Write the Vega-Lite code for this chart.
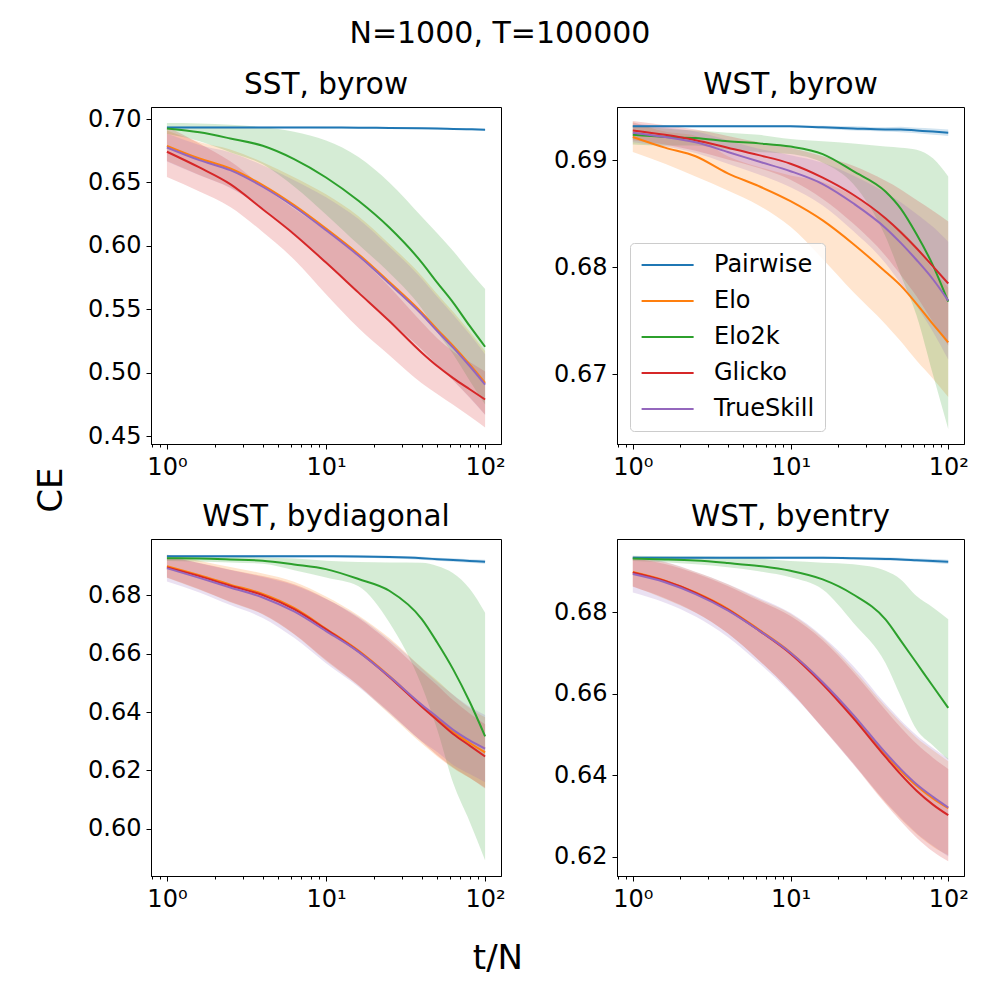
{
  "$schema": "https://vega.github.io/schema/vega-lite/v6.json",
  "padding": {"left": 35, "top": 19, "right": 5, "bottom": 5},
  "title": {"text": "N=1000, T=100000", "fontSize": 30, "anchor": "middle", "frame": "bounds", "offset": 20, "dx": -2},
  "datasets": {
    "ce": [
      {"p":"SST, byrow","s":"Pairwise","x":1,"m":0.6934,"lo":0.6927,"hi":0.6941},
      {"p":"SST, byrow","s":"Pairwise","x":1.6,"m":0.6934,"lo":0.6927,"hi":0.6941},
      {"p":"SST, byrow","s":"Pairwise","x":2.5,"m":0.6934,"lo":0.6927,"hi":0.6941},
      {"p":"SST, byrow","s":"Pairwise","x":4,"m":0.6934,"lo":0.6927,"hi":0.6941},
      {"p":"SST, byrow","s":"Pairwise","x":6.3,"m":0.6934,"lo":0.6927,"hi":0.6941},
      {"p":"SST, byrow","s":"Pairwise","x":10,"m":0.6933,"lo":0.6926,"hi":0.6940},
      {"p":"SST, byrow","s":"Pairwise","x":16,"m":0.6932,"lo":0.6925,"hi":0.6939},
      {"p":"SST, byrow","s":"Pairwise","x":25,"m":0.6930,"lo":0.6923,"hi":0.6937},
      {"p":"SST, byrow","s":"Pairwise","x":40,"m":0.6927,"lo":0.6920,"hi":0.6934},
      {"p":"SST, byrow","s":"Pairwise","x":50,"m":0.6925,"lo":0.6918,"hi":0.6932},
      {"p":"SST, byrow","s":"Pairwise","x":63,"m":0.6922,"lo":0.6915,"hi":0.6929},
      {"p":"SST, byrow","s":"Pairwise","x":80,"m":0.6919,"lo":0.6912,"hi":0.6926},
      {"p":"SST, byrow","s":"Pairwise","x":100,"m":0.6916,"lo":0.6909,"hi":0.6923},

      {"p":"SST, byrow","s":"Elo","x":1,"m":0.6789,"lo":0.6669,"hi":0.6909},
      {"p":"SST, byrow","s":"Elo","x":1.6,"m":0.6689,"lo":0.6559,"hi":0.6819},
      {"p":"SST, byrow","s":"Elo","x":2.5,"m":0.6610,"lo":0.6460,"hi":0.6760},
      {"p":"SST, byrow","s":"Elo","x":4,"m":0.6479,"lo":0.6299,"hi":0.6659},
      {"p":"SST, byrow","s":"Elo","x":6.3,"m":0.6321,"lo":0.6101,"hi":0.6541},
      {"p":"SST, byrow","s":"Elo","x":10,"m":0.6136,"lo":0.5866,"hi":0.6406},
      {"p":"SST, byrow","s":"Elo","x":16,"m":0.5934,"lo":0.5634,"hi":0.6234},
      {"p":"SST, byrow","s":"Elo","x":25,"m":0.5715,"lo":0.5415,"hi":0.6015},
      {"p":"SST, byrow","s":"Elo","x":40,"m":0.5473,"lo":0.5183,"hi":0.5763},
      {"p":"SST, byrow","s":"Elo","x":50,"m":0.5341,"lo":0.5061,"hi":0.5621},
      {"p":"SST, byrow","s":"Elo","x":63,"m":0.5210,"lo":0.4940,"hi":0.5480},
      {"p":"SST, byrow","s":"Elo","x":80,"m":0.5065,"lo":0.4805,"hi":0.5325},
      {"p":"SST, byrow","s":"Elo","x":100,"m":0.4920,"lo":0.4670,"hi":0.5170},

      {"p":"SST, byrow","s":"Elo2k","x":1,"m":0.6926,"lo":0.6884,"hi":0.6968},
      {"p":"SST, byrow","s":"Elo2k","x":1.6,"m":0.6895,"lo":0.6825,"hi":0.6965},
      {"p":"SST, byrow","s":"Elo2k","x":2.5,"m":0.6847,"lo":0.6739,"hi":0.6955},
      {"p":"SST, byrow","s":"Elo2k","x":4,"m":0.6789,"lo":0.6643,"hi":0.6935},
      {"p":"SST, byrow","s":"Elo2k","x":6.3,"m":0.6684,"lo":0.6468,"hi":0.6900},
      {"p":"SST, byrow","s":"Elo2k","x":10,"m":0.6539,"lo":0.6248,"hi":0.6830},
      {"p":"SST, byrow","s":"Elo2k","x":16,"m":0.6355,"lo":0.6010,"hi":0.6700},
      {"p":"SST, byrow","s":"Elo2k","x":25,"m":0.6144,"lo":0.5788,"hi":0.6500},
      {"p":"SST, byrow","s":"Elo2k","x":40,"m":0.5868,"lo":0.5506,"hi":0.6230},
      {"p":"SST, byrow","s":"Elo2k","x":50,"m":0.5710,"lo":0.5320,"hi":0.6100},
      {"p":"SST, byrow","s":"Elo2k","x":63,"m":0.5552,"lo":0.5144,"hi":0.5960},
      {"p":"SST, byrow","s":"Elo2k","x":80,"m":0.5368,"lo":0.4936,"hi":0.5800},
      {"p":"SST, byrow","s":"Elo2k","x":100,"m":0.5204,"lo":0.4748,"hi":0.5660},

      {"p":"SST, byrow","s":"Glicko","x":1,"m":0.6742,"lo":0.6542,"hi":0.6942},
      {"p":"SST, byrow","s":"Glicko","x":1.6,"m":0.6618,"lo":0.6428,"hi":0.6808},
      {"p":"SST, byrow","s":"Glicko","x":2.5,"m":0.6487,"lo":0.6307,"hi":0.6667},
      {"p":"SST, byrow","s":"Glicko","x":4,"m":0.6289,"lo":0.6109,"hi":0.6469},
      {"p":"SST, byrow","s":"Glicko","x":6.3,"m":0.6092,"lo":0.5892,"hi":0.6292},
      {"p":"SST, byrow","s":"Glicko","x":10,"m":0.5868,"lo":0.5618,"hi":0.6118},
      {"p":"SST, byrow","s":"Glicko","x":16,"m":0.5631,"lo":0.5351,"hi":0.5911},
      {"p":"SST, byrow","s":"Glicko","x":25,"m":0.5407,"lo":0.5137,"hi":0.5677},
      {"p":"SST, byrow","s":"Glicko","x":40,"m":0.5157,"lo":0.4917,"hi":0.5397},
      {"p":"SST, byrow","s":"Glicko","x":50,"m":0.5052,"lo":0.4832,"hi":0.5272},
      {"p":"SST, byrow","s":"Glicko","x":63,"m":0.4957,"lo":0.4747,"hi":0.5167},
      {"p":"SST, byrow","s":"Glicko","x":80,"m":0.4869,"lo":0.4655,"hi":0.5083},
      {"p":"SST, byrow","s":"Glicko","x":100,"m":0.4788,"lo":0.4568,"hi":0.5008},

      {"p":"SST, byrow","s":"TrueSkill","x":1,"m":0.6776,"lo":0.6666,"hi":0.6886},
      {"p":"SST, byrow","s":"TrueSkill","x":1.6,"m":0.6676,"lo":0.6556,"hi":0.6796},
      {"p":"SST, byrow","s":"TrueSkill","x":2.5,"m":0.6597,"lo":0.6457,"hi":0.6737},
      {"p":"SST, byrow","s":"TrueSkill","x":4,"m":0.6466,"lo":0.6296,"hi":0.6636},
      {"p":"SST, byrow","s":"TrueSkill","x":6.3,"m":0.6308,"lo":0.6098,"hi":0.6518},
      {"p":"SST, byrow","s":"TrueSkill","x":10,"m":0.6123,"lo":0.5863,"hi":0.6383},
      {"p":"SST, byrow","s":"TrueSkill","x":16,"m":0.5921,"lo":0.5631,"hi":0.6211},
      {"p":"SST, byrow","s":"TrueSkill","x":25,"m":0.5702,"lo":0.5412,"hi":0.5992},
      {"p":"SST, byrow","s":"TrueSkill","x":40,"m":0.5460,"lo":0.5180,"hi":0.5740},
      {"p":"SST, byrow","s":"TrueSkill","x":50,"m":0.5328,"lo":0.5058,"hi":0.5598},
      {"p":"SST, byrow","s":"TrueSkill","x":63,"m":0.5197,"lo":0.4937,"hi":0.5457},
      {"p":"SST, byrow","s":"TrueSkill","x":80,"m":0.5052,"lo":0.4802,"hi":0.5302},
      {"p":"SST, byrow","s":"TrueSkill","x":100,"m":0.4905,"lo":0.4665,"hi":0.5145},

      {"p":"WST, byrow","s":"Pairwise","x":1,"m":0.6932,"lo":0.6931,"hi":0.6933},
      {"p":"WST, byrow","s":"Pairwise","x":1.6,"m":0.6932,"lo":0.6931,"hi":0.6933},
      {"p":"WST, byrow","s":"Pairwise","x":2.5,"m":0.6932,"lo":0.6931,"hi":0.6933},
      {"p":"WST, byrow","s":"Pairwise","x":4,"m":0.6932,"lo":0.6931,"hi":0.6933},
      {"p":"WST, byrow","s":"Pairwise","x":6.3,"m":0.6932,"lo":0.6931,"hi":0.6933},
      {"p":"WST, byrow","s":"Pairwise","x":10,"m":0.6932,"lo":0.6931,"hi":0.6933},
      {"p":"WST, byrow","s":"Pairwise","x":16,"m":0.6931,"lo":0.69295,"hi":0.69325},
      {"p":"WST, byrow","s":"Pairwise","x":25,"m":0.6930,"lo":0.6928,"hi":0.6932},
      {"p":"WST, byrow","s":"Pairwise","x":40,"m":0.6929,"lo":0.6927,"hi":0.6931},
      {"p":"WST, byrow","s":"Pairwise","x":50,"m":0.6929,"lo":0.69265,"hi":0.69315},
      {"p":"WST, byrow","s":"Pairwise","x":63,"m":0.6928,"lo":0.69255,"hi":0.69305},
      {"p":"WST, byrow","s":"Pairwise","x":80,"m":0.6927,"lo":0.6924,"hi":0.6930},
      {"p":"WST, byrow","s":"Pairwise","x":100,"m":0.6926,"lo":0.6923,"hi":0.6929},

      {"p":"WST, byrow","s":"Elo","x":1,"m":0.6922,"lo":0.6908,"hi":0.6936},
      {"p":"WST, byrow","s":"Elo","x":1.6,"m":0.6912,"lo":0.6897,"hi":0.6927},
      {"p":"WST, byrow","s":"Elo","x":2.5,"m":0.6904,"lo":0.6885,"hi":0.6923},
      {"p":"WST, byrow","s":"Elo","x":4,"m":0.6888,"lo":0.6872,"hi":0.6904},
      {"p":"WST, byrow","s":"Elo","x":6.3,"m":0.6876,"lo":0.6858,"hi":0.6894},
      {"p":"WST, byrow","s":"Elo","x":10,"m":0.6862,"lo":0.6838,"hi":0.6886},
      {"p":"WST, byrow","s":"Elo","x":16,"m":0.6844,"lo":0.6808,"hi":0.6880},
      {"p":"WST, byrow","s":"Elo","x":25,"m":0.6822,"lo":0.6777,"hi":0.6867},
      {"p":"WST, byrow","s":"Elo","x":40,"m":0.6796,"lo":0.6747,"hi":0.6845},
      {"p":"WST, byrow","s":"Elo","x":50,"m":0.6783,"lo":0.6731,"hi":0.6835},
      {"p":"WST, byrow","s":"Elo","x":63,"m":0.6766,"lo":0.6713,"hi":0.6819},
      {"p":"WST, byrow","s":"Elo","x":80,"m":0.6747,"lo":0.6696,"hi":0.6798},
      {"p":"WST, byrow","s":"Elo","x":100,"m":0.6730,"lo":0.6679,"hi":0.6781},

      {"p":"WST, byrow","s":"Elo2k","x":1,"m":0.6924,"lo":0.6915,"hi":0.6933},
      {"p":"WST, byrow","s":"Elo2k","x":1.6,"m":0.6922,"lo":0.6914,"hi":0.6930},
      {"p":"WST, byrow","s":"Elo2k","x":2.5,"m":0.6921,"lo":0.6914,"hi":0.6928},
      {"p":"WST, byrow","s":"Elo2k","x":4,"m":0.6918,"lo":0.6910,"hi":0.6926},
      {"p":"WST, byrow","s":"Elo2k","x":6.3,"m":0.6916,"lo":0.6908,"hi":0.6924},
      {"p":"WST, byrow","s":"Elo2k","x":10,"m":0.6913,"lo":0.6906,"hi":0.6920},
      {"p":"WST, byrow","s":"Elo2k","x":16,"m":0.6906,"lo":0.6898,"hi":0.6918},
      {"p":"WST, byrow","s":"Elo2k","x":25,"m":0.6890,"lo":0.6878,"hi":0.6916},
      {"p":"WST, byrow","s":"Elo2k","x":40,"m":0.6871,"lo":0.6829,"hi":0.6913},
      {"p":"WST, byrow","s":"Elo2k","x":50,"m":0.6855,"lo":0.6793,"hi":0.6912},
      {"p":"WST, byrow","s":"Elo2k","x":63,"m":0.6831,"lo":0.6755,"hi":0.6910},
      {"p":"WST, byrow","s":"Elo2k","x":80,"m":0.6802,"lo":0.6700,"hi":0.6902},
      {"p":"WST, byrow","s":"Elo2k","x":100,"m":0.6768,"lo":0.6649,"hi":0.6885},

      {"p":"WST, byrow","s":"Glicko","x":1,"m":0.6928,"lo":0.6919,"hi":0.6937},
      {"p":"WST, byrow","s":"Glicko","x":1.6,"m":0.6924,"lo":0.6915,"hi":0.6933},
      {"p":"WST, byrow","s":"Glicko","x":2.5,"m":0.6919,"lo":0.6909,"hi":0.6929},
      {"p":"WST, byrow","s":"Glicko","x":4,"m":0.6912,"lo":0.6901,"hi":0.6923},
      {"p":"WST, byrow","s":"Glicko","x":6.3,"m":0.6905,"lo":0.6893,"hi":0.6917},
      {"p":"WST, byrow","s":"Glicko","x":10,"m":0.6897,"lo":0.6882,"hi":0.6912},
      {"p":"WST, byrow","s":"Glicko","x":16,"m":0.6884,"lo":0.6864,"hi":0.6904},
      {"p":"WST, byrow","s":"Glicko","x":25,"m":0.6868,"lo":0.6841,"hi":0.6895},
      {"p":"WST, byrow","s":"Glicko","x":40,"m":0.6846,"lo":0.6811,"hi":0.6881},
      {"p":"WST, byrow","s":"Glicko","x":50,"m":0.6833,"lo":0.6793,"hi":0.6873},
      {"p":"WST, byrow","s":"Glicko","x":63,"m":0.6818,"lo":0.6773,"hi":0.6863},
      {"p":"WST, byrow","s":"Glicko","x":80,"m":0.6801,"lo":0.6749,"hi":0.6853},
      {"p":"WST, byrow","s":"Glicko","x":100,"m":0.6785,"lo":0.6727,"hi":0.6843},

      {"p":"WST, byrow","s":"TrueSkill","x":1,"m":0.6926,"lo":0.6917,"hi":0.6935},
      {"p":"WST, byrow","s":"TrueSkill","x":1.6,"m":0.6922,"lo":0.6913,"hi":0.6931},
      {"p":"WST, byrow","s":"TrueSkill","x":2.5,"m":0.6917,"lo":0.6907,"hi":0.6927},
      {"p":"WST, byrow","s":"TrueSkill","x":4,"m":0.6908,"lo":0.6897,"hi":0.6919},
      {"p":"WST, byrow","s":"TrueSkill","x":6.3,"m":0.6899,"lo":0.6887,"hi":0.6911},
      {"p":"WST, byrow","s":"TrueSkill","x":10,"m":0.6890,"lo":0.6875,"hi":0.6905},
      {"p":"WST, byrow","s":"TrueSkill","x":16,"m":0.6878,"lo":0.6858,"hi":0.6898},
      {"p":"WST, byrow","s":"TrueSkill","x":25,"m":0.6860,"lo":0.6834,"hi":0.6886},
      {"p":"WST, byrow","s":"TrueSkill","x":40,"m":0.6837,"lo":0.6804,"hi":0.6870},
      {"p":"WST, byrow","s":"TrueSkill","x":50,"m":0.6823,"lo":0.6785,"hi":0.6861},
      {"p":"WST, byrow","s":"TrueSkill","x":63,"m":0.6807,"lo":0.6764,"hi":0.6850},
      {"p":"WST, byrow","s":"TrueSkill","x":80,"m":0.6789,"lo":0.6740,"hi":0.6838},
      {"p":"WST, byrow","s":"TrueSkill","x":100,"m":0.6769,"lo":0.6714,"hi":0.6824},

      {"p":"WST, bydiagonal","s":"Pairwise","x":1,"m":0.6933,"lo":0.6929,"hi":0.6937},
      {"p":"WST, bydiagonal","s":"Pairwise","x":1.6,"m":0.6933,"lo":0.6929,"hi":0.6937},
      {"p":"WST, bydiagonal","s":"Pairwise","x":2.5,"m":0.6933,"lo":0.6929,"hi":0.6937},
      {"p":"WST, bydiagonal","s":"Pairwise","x":4,"m":0.6933,"lo":0.6929,"hi":0.6937},
      {"p":"WST, bydiagonal","s":"Pairwise","x":6.3,"m":0.6933,"lo":0.6929,"hi":0.6937},
      {"p":"WST, bydiagonal","s":"Pairwise","x":10,"m":0.6933,"lo":0.6929,"hi":0.6937},
      {"p":"WST, bydiagonal","s":"Pairwise","x":16,"m":0.6932,"lo":0.6928,"hi":0.6936},
      {"p":"WST, bydiagonal","s":"Pairwise","x":25,"m":0.6930,"lo":0.69255,"hi":0.69345},
      {"p":"WST, bydiagonal","s":"Pairwise","x":40,"m":0.6926,"lo":0.6921,"hi":0.6931},
      {"p":"WST, bydiagonal","s":"Pairwise","x":50,"m":0.6923,"lo":0.6918,"hi":0.6928},
      {"p":"WST, bydiagonal","s":"Pairwise","x":63,"m":0.6920,"lo":0.6914,"hi":0.6926},
      {"p":"WST, bydiagonal","s":"Pairwise","x":80,"m":0.6917,"lo":0.6911,"hi":0.6923},
      {"p":"WST, bydiagonal","s":"Pairwise","x":100,"m":0.6914,"lo":0.6907,"hi":0.6921},

      {"p":"WST, bydiagonal","s":"Elo","x":1,"m":0.6899,"lo":0.6859,"hi":0.6939},
      {"p":"WST, bydiagonal","s":"Elo","x":1.6,"m":0.6868,"lo":0.6818,"hi":0.6918},
      {"p":"WST, bydiagonal","s":"Elo","x":2.5,"m":0.6836,"lo":0.6776,"hi":0.6896},
      {"p":"WST, bydiagonal","s":"Elo","x":4,"m":0.6804,"lo":0.6734,"hi":0.6874},
      {"p":"WST, bydiagonal","s":"Elo","x":6.3,"m":0.6756,"lo":0.6666,"hi":0.6846},
      {"p":"WST, bydiagonal","s":"Elo","x":10,"m":0.6685,"lo":0.6575,"hi":0.6795},
      {"p":"WST, bydiagonal","s":"Elo","x":16,"m":0.6610,"lo":0.6490,"hi":0.6730},
      {"p":"WST, bydiagonal","s":"Elo","x":25,"m":0.6523,"lo":0.6393,"hi":0.6653},
      {"p":"WST, bydiagonal","s":"Elo","x":40,"m":0.6422,"lo":0.6292,"hi":0.6552},
      {"p":"WST, bydiagonal","s":"Elo","x":50,"m":0.6378,"lo":0.6248,"hi":0.6508},
      {"p":"WST, bydiagonal","s":"Elo","x":63,"m":0.6333,"lo":0.6208,"hi":0.6458},
      {"p":"WST, bydiagonal","s":"Elo","x":80,"m":0.6294,"lo":0.6174,"hi":0.6414},
      {"p":"WST, bydiagonal","s":"Elo","x":100,"m":0.6262,"lo":0.6142,"hi":0.6382},

      {"p":"WST, bydiagonal","s":"Elo2k","x":1,"m":0.6926,"lo":0.6917,"hi":0.6935},
      {"p":"WST, bydiagonal","s":"Elo2k","x":1.6,"m":0.6925,"lo":0.6915,"hi":0.6934},
      {"p":"WST, bydiagonal","s":"Elo2k","x":2.5,"m":0.6922,"lo":0.6912,"hi":0.6932},
      {"p":"WST, bydiagonal","s":"Elo2k","x":4,"m":0.6918,"lo":0.6907,"hi":0.6929},
      {"p":"WST, bydiagonal","s":"Elo2k","x":6.3,"m":0.6905,"lo":0.6885,"hi":0.6925},
      {"p":"WST, bydiagonal","s":"Elo2k","x":10,"m":0.6889,"lo":0.6860,"hi":0.6918},
      {"p":"WST, bydiagonal","s":"Elo2k","x":16,"m":0.6855,"lo":0.6830,"hi":0.6913},
      {"p":"WST, bydiagonal","s":"Elo2k","x":25,"m":0.6815,"lo":0.6706,"hi":0.6912},
      {"p":"WST, bydiagonal","s":"Elo2k","x":40,"m":0.6718,"lo":0.6489,"hi":0.6911},
      {"p":"WST, bydiagonal","s":"Elo2k","x":50,"m":0.6638,"lo":0.6340,"hi":0.6900},
      {"p":"WST, bydiagonal","s":"Elo2k","x":63,"m":0.6546,"lo":0.6157,"hi":0.6875},
      {"p":"WST, bydiagonal","s":"Elo2k","x":80,"m":0.6435,"lo":0.6025,"hi":0.6822},
      {"p":"WST, bydiagonal","s":"Elo2k","x":100,"m":0.6317,"lo":0.5893,"hi":0.6740},

      {"p":"WST, bydiagonal","s":"Glicko","x":1,"m":0.6895,"lo":0.6860,"hi":0.6930},
      {"p":"WST, bydiagonal","s":"Glicko","x":1.6,"m":0.6865,"lo":0.6820,"hi":0.6910},
      {"p":"WST, bydiagonal","s":"Glicko","x":2.5,"m":0.6832,"lo":0.6777,"hi":0.6887},
      {"p":"WST, bydiagonal","s":"Glicko","x":4,"m":0.6800,"lo":0.6735,"hi":0.6865},
      {"p":"WST, bydiagonal","s":"Glicko","x":6.3,"m":0.6752,"lo":0.6667,"hi":0.6837},
      {"p":"WST, bydiagonal","s":"Glicko","x":10,"m":0.6683,"lo":0.6578,"hi":0.6788},
      {"p":"WST, bydiagonal","s":"Glicko","x":16,"m":0.6607,"lo":0.6492,"hi":0.6722},
      {"p":"WST, bydiagonal","s":"Glicko","x":25,"m":0.6520,"lo":0.6400,"hi":0.6640},
      {"p":"WST, bydiagonal","s":"Glicko","x":40,"m":0.6418,"lo":0.6298,"hi":0.6538},
      {"p":"WST, bydiagonal","s":"Glicko","x":50,"m":0.6372,"lo":0.6252,"hi":0.6492},
      {"p":"WST, bydiagonal","s":"Glicko","x":63,"m":0.6325,"lo":0.6210,"hi":0.6440},
      {"p":"WST, bydiagonal","s":"Glicko","x":80,"m":0.6285,"lo":0.6175,"hi":0.6395},
      {"p":"WST, bydiagonal","s":"Glicko","x":100,"m":0.6248,"lo":0.6138,"hi":0.6358},

      {"p":"WST, bydiagonal","s":"TrueSkill","x":1,"m":0.6892,"lo":0.6847,"hi":0.6937},
      {"p":"WST, bydiagonal","s":"TrueSkill","x":1.6,"m":0.6859,"lo":0.6809,"hi":0.6909},
      {"p":"WST, bydiagonal","s":"TrueSkill","x":2.5,"m":0.6826,"lo":0.6766,"hi":0.6886},
      {"p":"WST, bydiagonal","s":"TrueSkill","x":4,"m":0.6792,"lo":0.6722,"hi":0.6862},
      {"p":"WST, bydiagonal","s":"TrueSkill","x":6.3,"m":0.6744,"lo":0.6654,"hi":0.6834},
      {"p":"WST, bydiagonal","s":"TrueSkill","x":10,"m":0.6677,"lo":0.6567,"hi":0.6787},
      {"p":"WST, bydiagonal","s":"TrueSkill","x":16,"m":0.6606,"lo":0.6486,"hi":0.6726},
      {"p":"WST, bydiagonal","s":"TrueSkill","x":25,"m":0.6522,"lo":0.6397,"hi":0.6647},
      {"p":"WST, bydiagonal","s":"TrueSkill","x":40,"m":0.6425,"lo":0.6300,"hi":0.6550},
      {"p":"WST, bydiagonal","s":"TrueSkill","x":50,"m":0.6383,"lo":0.6263,"hi":0.6503},
      {"p":"WST, bydiagonal","s":"TrueSkill","x":63,"m":0.6339,"lo":0.6219,"hi":0.6459},
      {"p":"WST, bydiagonal","s":"TrueSkill","x":80,"m":0.6303,"lo":0.6188,"hi":0.6418},
      {"p":"WST, bydiagonal","s":"TrueSkill","x":100,"m":0.6275,"lo":0.6160,"hi":0.6390},

      {"p":"WST, byentry","s":"Pairwise","x":1,"m":0.6933,"lo":0.6930,"hi":0.6936},
      {"p":"WST, byentry","s":"Pairwise","x":1.6,"m":0.6933,"lo":0.6930,"hi":0.6936},
      {"p":"WST, byentry","s":"Pairwise","x":2.5,"m":0.6933,"lo":0.6930,"hi":0.6936},
      {"p":"WST, byentry","s":"Pairwise","x":4,"m":0.6933,"lo":0.6930,"hi":0.6936},
      {"p":"WST, byentry","s":"Pairwise","x":6.3,"m":0.6933,"lo":0.6930,"hi":0.6936},
      {"p":"WST, byentry","s":"Pairwise","x":10,"m":0.6933,"lo":0.6930,"hi":0.6936},
      {"p":"WST, byentry","s":"Pairwise","x":16,"m":0.6933,"lo":0.6930,"hi":0.6936},
      {"p":"WST, byentry","s":"Pairwise","x":25,"m":0.6932,"lo":0.6929,"hi":0.6935},
      {"p":"WST, byentry","s":"Pairwise","x":40,"m":0.6930,"lo":0.6926,"hi":0.6934},
      {"p":"WST, byentry","s":"Pairwise","x":50,"m":0.6929,"lo":0.6925,"hi":0.6933},
      {"p":"WST, byentry","s":"Pairwise","x":63,"m":0.6927,"lo":0.6923,"hi":0.6931},
      {"p":"WST, byentry","s":"Pairwise","x":80,"m":0.6925,"lo":0.6920,"hi":0.6930},
      {"p":"WST, byentry","s":"Pairwise","x":100,"m":0.6923,"lo":0.6918,"hi":0.6928},

      {"p":"WST, byentry","s":"Elo","x":1,"m":0.6898,"lo":0.6863,"hi":0.6933},
      {"p":"WST, byentry","s":"Elo","x":1.6,"m":0.6877,"lo":0.6832,"hi":0.6922},
      {"p":"WST, byentry","s":"Elo","x":2.5,"m":0.6848,"lo":0.6798,"hi":0.6898},
      {"p":"WST, byentry","s":"Elo","x":4,"m":0.6808,"lo":0.6748,"hi":0.6868},
      {"p":"WST, byentry","s":"Elo","x":6.3,"m":0.6757,"lo":0.6682,"hi":0.6832},
      {"p":"WST, byentry","s":"Elo","x":10,"m":0.6701,"lo":0.6606,"hi":0.6796},
      {"p":"WST, byentry","s":"Elo","x":16,"m":0.6627,"lo":0.6517,"hi":0.6737},
      {"p":"WST, byentry","s":"Elo","x":25,"m":0.6545,"lo":0.6430,"hi":0.6660},
      {"p":"WST, byentry","s":"Elo","x":40,"m":0.6451,"lo":0.6333,"hi":0.6569},
      {"p":"WST, byentry","s":"Elo","x":50,"m":0.6411,"lo":0.6293,"hi":0.6529},
      {"p":"WST, byentry","s":"Elo","x":63,"m":0.6374,"lo":0.6256,"hi":0.6492},
      {"p":"WST, byentry","s":"Elo","x":80,"m":0.6343,"lo":0.6225,"hi":0.6461},
      {"p":"WST, byentry","s":"Elo","x":100,"m":0.6319,"lo":0.6204,"hi":0.6434},

      {"p":"WST, byentry","s":"Elo2k","x":1,"m":0.6931,"lo":0.6925,"hi":0.6938},
      {"p":"WST, byentry","s":"Elo2k","x":1.6,"m":0.6929,"lo":0.6922,"hi":0.6937},
      {"p":"WST, byentry","s":"Elo2k","x":2.5,"m":0.6926,"lo":0.6917,"hi":0.6936},
      {"p":"WST, byentry","s":"Elo2k","x":4,"m":0.6920,"lo":0.6910,"hi":0.6934},
      {"p":"WST, byentry","s":"Elo2k","x":6.3,"m":0.6913,"lo":0.6900,"hi":0.6931},
      {"p":"WST, byentry","s":"Elo2k","x":10,"m":0.6901,"lo":0.6885,"hi":0.6925},
      {"p":"WST, byentry","s":"Elo2k","x":16,"m":0.6880,"lo":0.6855,"hi":0.6921},
      {"p":"WST, byentry","s":"Elo2k","x":25,"m":0.6843,"lo":0.6774,"hi":0.6917},
      {"p":"WST, byentry","s":"Elo2k","x":40,"m":0.6782,"lo":0.6675,"hi":0.6901},
      {"p":"WST, byentry","s":"Elo2k","x":50,"m":0.6730,"lo":0.6593,"hi":0.6880},
      {"p":"WST, byentry","s":"Elo2k","x":63,"m":0.6675,"lo":0.6512,"hi":0.6839},
      {"p":"WST, byentry","s":"Elo2k","x":80,"m":0.6618,"lo":0.6473,"hi":0.6811},
      {"p":"WST, byentry","s":"Elo2k","x":100,"m":0.6565,"lo":0.6438,"hi":0.6782},

      {"p":"WST, byentry","s":"Glicko","x":1,"m":0.6897,"lo":0.6862,"hi":0.6932},
      {"p":"WST, byentry","s":"Glicko","x":1.6,"m":0.6876,"lo":0.6834,"hi":0.6918},
      {"p":"WST, byentry","s":"Glicko","x":2.5,"m":0.6847,"lo":0.6799,"hi":0.6895},
      {"p":"WST, byentry","s":"Glicko","x":4,"m":0.6806,"lo":0.6748,"hi":0.6864},
      {"p":"WST, byentry","s":"Glicko","x":6.3,"m":0.6755,"lo":0.6682,"hi":0.6828},
      {"p":"WST, byentry","s":"Glicko","x":10,"m":0.6698,"lo":0.6606,"hi":0.6790},
      {"p":"WST, byentry","s":"Glicko","x":16,"m":0.6623,"lo":0.6515,"hi":0.6731},
      {"p":"WST, byentry","s":"Glicko","x":25,"m":0.6540,"lo":0.6427,"hi":0.6653},
      {"p":"WST, byentry","s":"Glicko","x":40,"m":0.6445,"lo":0.6330,"hi":0.6560},
      {"p":"WST, byentry","s":"Glicko","x":50,"m":0.6402,"lo":0.6287,"hi":0.6517},
      {"p":"WST, byentry","s":"Glicko","x":63,"m":0.6362,"lo":0.6247,"hi":0.6477},
      {"p":"WST, byentry","s":"Glicko","x":80,"m":0.6328,"lo":0.6213,"hi":0.6443},
      {"p":"WST, byentry","s":"Glicko","x":100,"m":0.6302,"lo":0.6189,"hi":0.6415},

      {"p":"WST, byentry","s":"TrueSkill","x":1,"m":0.6893,"lo":0.6848,"hi":0.6938},
      {"p":"WST, byentry","s":"TrueSkill","x":1.6,"m":0.6873,"lo":0.6823,"hi":0.6923},
      {"p":"WST, byentry","s":"TrueSkill","x":2.5,"m":0.6844,"lo":0.6789,"hi":0.6899},
      {"p":"WST, byentry","s":"TrueSkill","x":4,"m":0.6804,"lo":0.6739,"hi":0.6869},
      {"p":"WST, byentry","s":"TrueSkill","x":6.3,"m":0.6755,"lo":0.6675,"hi":0.6835},
      {"p":"WST, byentry","s":"TrueSkill","x":10,"m":0.6700,"lo":0.6602,"hi":0.6798},
      {"p":"WST, byentry","s":"TrueSkill","x":16,"m":0.6628,"lo":0.6516,"hi":0.6740},
      {"p":"WST, byentry","s":"TrueSkill","x":25,"m":0.6548,"lo":0.6428,"hi":0.6668},
      {"p":"WST, byentry","s":"TrueSkill","x":40,"m":0.6455,"lo":0.6335,"hi":0.6575},
      {"p":"WST, byentry","s":"TrueSkill","x":50,"m":0.6415,"lo":0.6295,"hi":0.6535},
      {"p":"WST, byentry","s":"TrueSkill","x":63,"m":0.6378,"lo":0.6258,"hi":0.6498},
      {"p":"WST, byentry","s":"TrueSkill","x":80,"m":0.6347,"lo":0.6227,"hi":0.6467},
      {"p":"WST, byentry","s":"TrueSkill","x":100,"m":0.6321,"lo":0.6201,"hi":0.6441}
    ]
  },
  "vconcat": [
    {
      "title": {"text": "t/N", "orient": "bottom", "fontSize": 34, "anchor": "middle", "frame": "bounds", "offset": 30, "dx": -4},
      "vconcat": [
        {
          "title": {"text": "CE", "orient": "left", "fontSize": 34, "anchor": "middle", "frame": "bounds", "offset": 18},
          "spacing": 21,
          "vconcat": [
            {
              "spacing": 47,
              "hconcat": [
                {
                  "width": 350, "height": 337,
                  "title": {"text": "SST, byrow"},
                  "data": {"name": "ce"},
                  "transform": [{"filter": "datum.p == 'SST, byrow'"}],
                  "resolve": {"axis": {"x": "independent"}},
                  "layer": [
                    {
                      "mark": {"type": "area", "opacity": 0.2, "interpolate": "monotone"},
                      "encoding": {
                        "x": {"field": "x", "type": "quantitative", "scale": {"type": "log", "domain": [0.794, 125.9], "nice": false},
                              "axis": {"orient": "bottom", "values": [1, 10, 100], "labelExpr": "datum.value == 1 ? '10⁰' : datum.value == 10 ? '10¹' : '10²'", "tickSize": 5}},
                        "y": {"field": "lo", "type": "quantitative", "scale": {"domain": [0.4437, 0.7095], "nice": false, "zero": false},
                              "axis": {"values": [0.45, 0.5, 0.55, 0.6, 0.65, 0.7], "format": ".2f"}},
                        "y2": {"field": "hi"},
                        "fill": {"field": "s", "type": "nominal", "scale": {"domain": ["Pairwise", "Elo", "Elo2k", "Glicko", "TrueSkill"], "range": ["#1f77b4", "#ff7f0e", "#2ca02c", "#d62728", "#9467bd"]}, "legend": null}
                      }
                    },
                    {
                      "mark": {"type": "line", "strokeWidth": 2, "interpolate": "monotone"},
                      "encoding": {
                        "x": {"field": "x", "type": "quantitative", "scale": {"type": "log", "domain": [0.794, 125.9], "nice": false},
                              "axis": {"orient": "bottom", "values": [0.8, 0.9, 2, 3, 4, 5, 6, 7, 8, 9, 20, 30, 40, 50, 60, 70, 80, 90], "labels": false, "domain": false, "tickSize": 3}},
                        "y": {"field": "m", "type": "quantitative", "scale": {"domain": [0.4437, 0.7095], "nice": false, "zero": false}},
                        "color": {"field": "s", "type": "nominal", "scale": {"domain": ["Pairwise", "Elo", "Elo2k", "Glicko", "TrueSkill"], "range": ["#1f77b4", "#ff7f0e", "#2ca02c", "#d62728", "#9467bd"]}, "legend": null}
                      }
                    }
                  ]
                },
                {
                  "width": 347, "height": 337,
                  "title": {"text": "WST, byrow"},
                  "data": {"name": "ce"},
                  "transform": [{"filter": "datum.p == 'WST, byrow'"}],
                  "resolve": {"axis": {"x": "independent"}},
                  "layer": [
                    {
                      "mark": {"type": "area", "opacity": 0.2, "interpolate": "monotone"},
                      "encoding": {
                        "x": {"field": "x", "type": "quantitative", "scale": {"type": "log", "domain": [0.794, 125.9], "nice": false},
                              "axis": {"orient": "bottom", "values": [1, 10, 100], "labelExpr": "datum.value == 1 ? '10⁰' : datum.value == 10 ? '10¹' : '10²'", "tickSize": 5}},
                        "y": {"field": "lo", "type": "quantitative", "scale": {"domain": [0.6635, 0.6950], "nice": false, "zero": false},
                              "axis": {"values": [0.67, 0.68, 0.69], "format": ".2f"}},
                        "y2": {"field": "hi"},
                        "fill": {"field": "s", "type": "nominal", "scale": {"domain": ["Pairwise", "Elo", "Elo2k", "Glicko", "TrueSkill"], "range": ["#1f77b4", "#ff7f0e", "#2ca02c", "#d62728", "#9467bd"]}, "legend": null}
                      }
                    },
                    {
                      "mark": {"type": "line", "strokeWidth": 2, "interpolate": "monotone"},
                      "encoding": {
                        "x": {"field": "x", "type": "quantitative", "scale": {"type": "log", "domain": [0.794, 125.9], "nice": false},
                              "axis": {"orient": "bottom", "values": [0.8, 0.9, 2, 3, 4, 5, 6, 7, 8, 9, 20, 30, 40, 50, 60, 70, 80, 90], "labels": false, "domain": false, "tickSize": 3}},
                        "y": {"field": "m", "type": "quantitative", "scale": {"domain": [0.6635, 0.6950], "nice": false, "zero": false}},
                        "color": {"field": "s", "type": "nominal", "scale": {"domain": ["Pairwise", "Elo", "Elo2k", "Glicko", "TrueSkill"], "range": ["#1f77b4", "#ff7f0e", "#2ca02c", "#d62728", "#9467bd"]},
                                  "legend": {"orient": "bottom-left", "offset": 13, "title": null, "symbolType": "M-1,0H4", "symbolSize": 433, "symbolStrokeWidth": 2, "labelFontSize": 24, "labelFont": "DejaVu Sans", "labelColor": "black", "rowPadding": 12, "padding": 10, "labelOffset": 50, "strokeColor": "#cccccc", "fillColor": "rgba(255,255,255,0.8)", "cornerRadius": 4}}
                      }
                    }
                  ]
                }
              ],
              "resolve": {"legend": {"color": "independent"}}
            },
            {
              "spacing": 47,
              "hconcat": [
                {
                  "width": 350, "height": 337,
                  "title": {"text": "WST, bydiagonal"},
                  "data": {"name": "ce"},
                  "transform": [{"filter": "datum.p == 'WST, bydiagonal'"}],
                  "resolve": {"axis": {"x": "independent"}},
                  "layer": [
                    {
                      "mark": {"type": "area", "opacity": 0.2, "interpolate": "monotone"},
                      "encoding": {
                        "x": {"field": "x", "type": "quantitative", "scale": {"type": "log", "domain": [0.794, 125.9], "nice": false},
                              "axis": {"orient": "bottom", "values": [1, 10, 100], "labelExpr": "datum.value == 1 ? '10⁰' : datum.value == 10 ? '10¹' : '10²'", "tickSize": 5}},
                        "y": {"field": "lo", "type": "quantitative", "scale": {"domain": [0.5839, 0.6992], "nice": false, "zero": false},
                              "axis": {"values": [0.6, 0.62, 0.64, 0.66, 0.68], "format": ".2f"}},
                        "y2": {"field": "hi"},
                        "fill": {"field": "s", "type": "nominal", "scale": {"domain": ["Pairwise", "Elo", "Elo2k", "Glicko", "TrueSkill"], "range": ["#1f77b4", "#ff7f0e", "#2ca02c", "#d62728", "#9467bd"]}, "legend": null}
                      }
                    },
                    {
                      "mark": {"type": "line", "strokeWidth": 2, "interpolate": "monotone"},
                      "encoding": {
                        "x": {"field": "x", "type": "quantitative", "scale": {"type": "log", "domain": [0.794, 125.9], "nice": false},
                              "axis": {"orient": "bottom", "values": [0.8, 0.9, 2, 3, 4, 5, 6, 7, 8, 9, 20, 30, 40, 50, 60, 70, 80, 90], "labels": false, "domain": false, "tickSize": 3}},
                        "y": {"field": "m", "type": "quantitative", "scale": {"domain": [0.5839, 0.6992], "nice": false, "zero": false}},
                        "color": {"field": "s", "type": "nominal", "scale": {"domain": ["Pairwise", "Elo", "Elo2k", "Glicko", "TrueSkill"], "range": ["#1f77b4", "#ff7f0e", "#2ca02c", "#d62728", "#9467bd"]}, "legend": null}
                      }
                    }
                  ]
                },
                {
                  "width": 347, "height": 337,
                  "title": {"text": "WST, byentry"},
                  "data": {"name": "ce"},
                  "transform": [{"filter": "datum.p == 'WST, byentry'"}],
                  "resolve": {"axis": {"x": "independent"}},
                  "layer": [
                    {
                      "mark": {"type": "area", "opacity": 0.2, "interpolate": "monotone"},
                      "encoding": {
                        "x": {"field": "x", "type": "quantitative", "scale": {"type": "log", "domain": [0.794, 125.9], "nice": false},
                              "axis": {"orient": "bottom", "values": [1, 10, 100], "labelExpr": "datum.value == 1 ? '10⁰' : datum.value == 10 ? '10¹' : '10²'", "tickSize": 5}},
                        "y": {"field": "lo", "type": "quantitative", "scale": {"domain": [0.6153, 0.6979], "nice": false, "zero": false},
                              "axis": {"values": [0.62, 0.64, 0.66, 0.68], "format": ".2f"}},
                        "y2": {"field": "hi"},
                        "fill": {"field": "s", "type": "nominal", "scale": {"domain": ["Pairwise", "Elo", "Elo2k", "Glicko", "TrueSkill"], "range": ["#1f77b4", "#ff7f0e", "#2ca02c", "#d62728", "#9467bd"]}, "legend": null}
                      }
                    },
                    {
                      "mark": {"type": "line", "strokeWidth": 2, "interpolate": "monotone"},
                      "encoding": {
                        "x": {"field": "x", "type": "quantitative", "scale": {"type": "log", "domain": [0.794, 125.9], "nice": false},
                              "axis": {"orient": "bottom", "values": [0.8, 0.9, 2, 3, 4, 5, 6, 7, 8, 9, 20, 30, 40, 50, 60, 70, 80, 90], "labels": false, "domain": false, "tickSize": 3}},
                        "y": {"field": "m", "type": "quantitative", "scale": {"domain": [0.6153, 0.6979], "nice": false, "zero": false}},
                        "color": {"field": "s", "type": "nominal", "scale": {"domain": ["Pairwise", "Elo", "Elo2k", "Glicko", "TrueSkill"], "range": ["#1f77b4", "#ff7f0e", "#2ca02c", "#d62728", "#9467bd"]}, "legend": null}
                      }
                    }
                  ]
                }
              ],
              "resolve": {"legend": {"color": "independent"}}
            }
          ],
          "resolve": {"legend": {"color": "independent"}}
        }
      ],
      "resolve": {"legend": {"color": "independent"}}
    }
  ],
  "resolve": {"legend": {"color": "independent"}},
  "config": {
    "font": "DejaVu Sans",
    "view": {"stroke": "black", "strokeWidth": 1},
    "axis": {"labelFont": "DejaVu Sans", "labelFontSize": 24, "labelColor": "black", "tickColor": "black", "domainColor": "black", "tickSize": 5, "labelPadding": 5, "grid": false, "title": null},
    "axisX": {"labelPadding": 6},
    "title": {"font": "DejaVu Sans", "fontWeight": "normal", "color": "black", "fontSize": 29.5, "offset": 7, "anchor": "middle", "frame": "group"},
    "concat": {"spacing": 21}
  }
}
